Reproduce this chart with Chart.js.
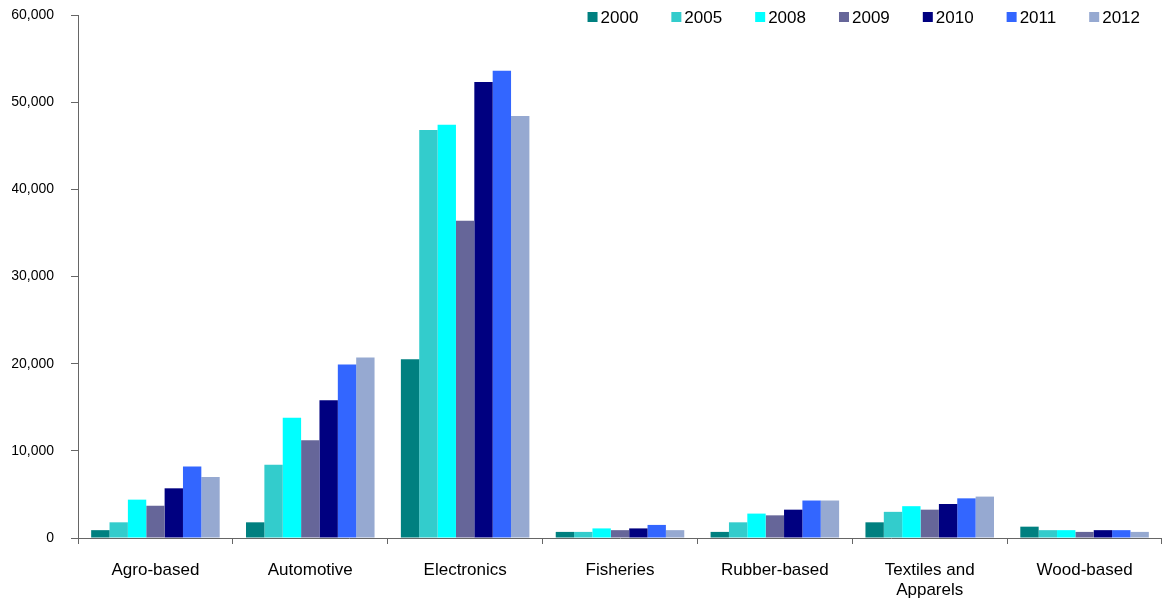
<!DOCTYPE html>
<html>
<head>
<meta charset="utf-8">
<script src="https://cdn.jsdelivr.net/npm/chart.js@4/dist/chart.umd.min.js"></script>
<style>
  body { margin: 0; background: #fff; }
  #wrap { width: 1162px; height: 600px; }
</style>
</head>
<body>
<div id="wrap"><canvas id="myChart"></canvas></div>
<script>
// Categories and series
let categories = ['Agro-based', 'Automotive', 'Electronics', 'Fisheries', 'Rubber-based', ['Textiles and', 'Apparels'], 'Wood-based'];
let years = ['2000', '2005', '2008', '2009', '2010', '2011', '2012'];

let v2000 = [900, 1800, 20500, 700, 700, 1800, 1300];
let v2005 = [1800, 8400, 46800, 700, 1800, 3000, 900];
let v2008 = [4400, 13800, 47400, 1100, 2800, 3650, 900];
let v2009 = [3700, 11200, 36400, 900, 2600, 3250, 700];
let v2010 = [5700, 15800, 52300, 1100, 3250, 3900, 900];
let v2011 = [8200, 19900, 53600, 1500, 4300, 4550, 900];
let v2012 = [7000, 20700, 48400, 900, 4300, 4750, 700];

let colors = ['#008080', '#33CCCC', '#00FFFF', '#666699', '#000080', '#3366FF', '#96A9D1'];

let yTicks = [0, 10000, 20000, 30000, 40000, 50000, 60000];

// Legend drawn in one row inside the plot, top right
let rowLegend = {
    id: 'rowLegend',
    afterDraw: function (chart) {
        let c = chart.ctx;
        let box = 10, gap = 3, space = 33;
        c.save();
        c.font = '17px "Liberation Sans"';
        c.textBaseline = 'middle';
        let items = chart.data.datasets.map(function (ds) {
            return { text: ds.label, color: ds.backgroundColor, w: c.measureText(ds.label).width };
        });
        let total = 0;
        items.forEach(function (it, i) {
            total += box + gap + it.w + (i < items.length - 1 ? space : 0);
        });
        let x = chart.width - 22 - total;
        let y = 17;
        items.forEach(function (it) {
            c.fillStyle = it.color;
            c.fillRect(x, y - box / 2, box, box);
            c.fillStyle = '#000';
            c.fillText(it.text, x + box + gap, y + 1);
            x += box + gap + it.w + space;
        });
        c.restore();
    }
};

function createChart() {
    let series = [v2000, v2005, v2008, v2009, v2010, v2011, v2012];
    let datasets = years.map(function (y, i) {
        return {
            label: y,
            data: series[i],
            backgroundColor: colors[i],
            borderWidth: 0,
            categoryPercentage: 0.83,
            barPercentage: 1.0
        };
    });

    let ctx = document.getElementById('myChart').getContext('2d');
    new Chart(ctx, {
        type: 'bar',
        data: { labels: categories, datasets: datasets },
        plugins: [rowLegend],
        options: {
            responsive: true,
            maintainAspectRatio: false,
            animation: false,
            layout: { padding: { top: 0, left: 12, right: 0, bottom: 0 } },
            plugins: {
                tooltip: { enabled: false },
                legend: { display: false }
            },
            scales: {
                x: {
                    afterFit: function (axis) { axis.height = 62; },
                    grid: { drawOnChartArea: false, tickLength: 6, color: '#666' },
                    border: { color: '#666' },
                    ticks: {
                        color: '#000',
                        padding: 16,
                        font: { family: 'Liberation Sans', size: 17, lineHeight: 1.2 },
                        maxRotation: 0
                    }
                },
                y: {
                    min: 0,
                    max: 60000,
                    afterBuildTicks: function (axis) {
                        axis.ticks = yTicks.map(function (v) { return { value: v }; });
                    },
                    afterFit: function (axis) {
                        axis.width = 66;
                        axis.paddingTop = 15;
                    },
                    grid: { drawOnChartArea: false, tickLength: 7, color: '#666' },
                    border: { color: '#666' },
                    ticks: {
                        color: '#000',
                        padding: 17,
                        font: { family: 'Liberation Sans', size: 14 },
                        callback: function (v) { return v.toLocaleString('en-US'); }
                    }
                }
            }
        }
    });
}

createChart();
</script>
</body>
</html>
